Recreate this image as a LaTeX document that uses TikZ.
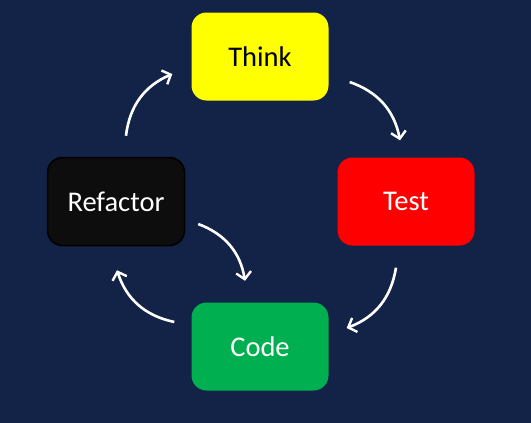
\documentclass[tikz,border=0pt]{standalone}
\usepackage{fontspec}
\setmainfont{Carlito}
\usetikzlibrary{positioning,arrows.meta}
\definecolor{bgnavy}{RGB}{19,35,72}
\definecolor{thinkyellow}{RGB}{255,255,0}
\definecolor{testred}{RGB}{255,0,0}
\definecolor{codegreen}{RGB}{0,176,80}
\definecolor{refblack}{RGB}{13,13,13}

\begin{document}
\begin{tikzpicture}[x=1pt,y=1pt,on grid,
    stage/.style={rectangle,rounded corners=15pt,minimum width=137pt,minimum height=88pt,
      inner sep=0pt,font=\fontsize{28.5}{32}\selectfont},
    flow/.style={->,draw=white,line width=2.6pt,
      -{Straight Barb[length=7pt,width=15pt,line width=2.4pt]},bend left=30}]
  % background
  \fill[bgnavy] (0,0) rectangle (531,-423);
  % Define stages
  \node[stage,fill=thinkyellow,text=black] (think) at (260,-56.5) {Think};
  \node[stage,fill=testred,text=white] (test) [below right=145pt and 146pt of think] {Test};
  \node[stage,fill=codegreen,text=white] (code) [below=290pt of think] {Code};
  \node[stage,fill=refblack,draw=black,line width=1.5pt,text=white] (refactor)
    [below left=145pt and 144pt of think] {Refactor};
  % Cycle
  \draw[flow] ([xshift=21pt,yshift=-25.5pt]think.east) to ([xshift=-6pt,yshift=17pt]test.north);
  \draw[flow] ([xshift=-10pt,yshift=-22pt]test.south) to ([xshift=18pt,yshift=18.5pt]code.east);
  \draw[flow] ([xshift=-17pt,yshift=24.5pt]code.west) to ([xshift=1pt,yshift=-24pt]refactor.south);
  \draw[flow] ([xshift=10pt,yshift=21pt]refactor.north) to ([xshift=-19pt,yshift=-17.5pt]think.west);
  \draw[flow] ([xshift=13pt,yshift=-22.5pt]refactor.east) to ([xshift=-15pt,yshift=21.5pt]code.north);
\end{tikzpicture}
\end{document}
